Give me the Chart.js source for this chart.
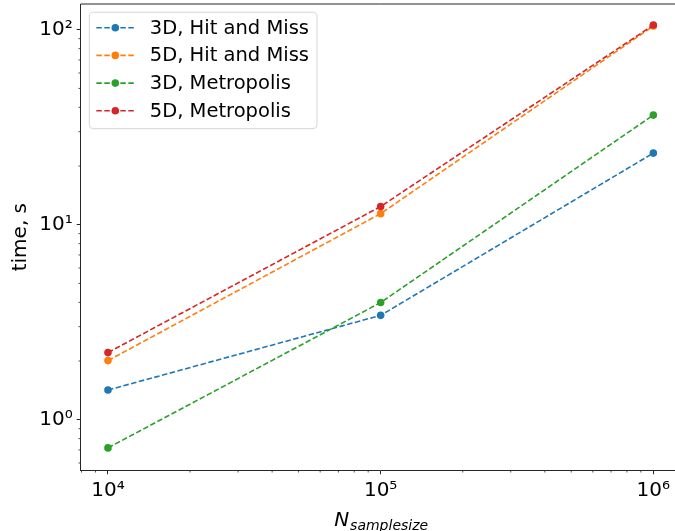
<!DOCTYPE html>
<html><head><meta charset="utf-8">
<script src="https://cdn.jsdelivr.net/npm/chart.js@4.4.0/dist/chart.umd.min.js"></script>
<style>
html,body{margin:0;padding:0;overflow:hidden;background:#fff;width:675px;height:531px}
#wrap{width:690px;height:531px;position:relative}
</style></head><body>
<div id="wrap"><canvas id="c" width="690" height="531"></canvas></div>
<script>
// ---- data ----
const sampleSizes = [1e4, 1e5, 1e6];
const hitMiss3D = [1.42, 3.43, 23.3];
const hitMiss5D = [2.01, 11.4, 104.5];
const metropolis3D = [0.717, 3.99, 36.5];
const metropolis5D = [2.21, 12.4, 105.7];
const seriesLabels = ['3D, Hit and Miss', '5D, Hit and Miss', '3D, Metropolis', '5D, Metropolis'];
const seriesValues = [hitMiss3D, hitMiss5D, metropolis3D, metropolis5D];
const seriesColors = ['#1f77b4', '#ff7f0e', '#2ca02c', '#d62728'];
const xTickValues = [1e4, 1e5, 1e6];
const xTickLabels = ['10⁴', '10⁵', '10⁶'];
const yTickValues = [1, 10, 100];
const yTickLabels = ['10⁰', '10¹', '10²'];
const yAxisTitle = 'time, s';
const xAxisTitleMain = 'N';
const xAxisTitleSub = 'samplesize';

Chart.defaults.font.family = '"DejaVu Sans", sans-serif';
const FONT = '"DejaVu Sans", sans-serif';
const AXIS_COLOR = '#262626';

const datasets = seriesValues.map((vals, i) => ({
  label: seriesLabels[i],
  data: sampleSizes.map((x, j) => ({x: x, y: vals[j]})),
  borderColor: seriesColors[i],
  backgroundColor: seriesColors[i],
  pointBackgroundColor: seriesColors[i],
  pointBorderWidth: 0,
  pointRadius: 3.8,
  borderWidth: 1.6,
  borderDash: [5.5, 2.5],
  tension: 0,
  fill: false,
  order: seriesValues.length - 1 - i
}));

function setTicks(values) {
  return function(scale) { scale.ticks = values.map(v => ({value: v})); };
}

const minorTicks = {
  id: 'minorTicks',
  afterDraw(chart) {
    const ctx = chart.ctx;
    const xs = chart.scales.x, ys = chart.scales.y;
    ctx.save();
    ctx.strokeStyle = AXIS_COLOR;
    ctx.lineWidth = 0.8;
    for (let k = -2; k <= 7; k++) {
      for (let m = 2; m <= 9; m++) {
        const v = m * Math.pow(10, k);
        if (v > xs.min && v < xs.max) {
          const px = xs.getPixelForValue(v);
          ctx.beginPath(); ctx.moveTo(px, xs.top); ctx.lineTo(px, xs.top + 2.2); ctx.stroke();
        }
        if (v > ys.min && v < ys.max) {
          const py = ys.getPixelForValue(v);
          ctx.beginPath(); ctx.moveTo(ys.right, py); ctx.lineTo(ys.right - 2.2, py); ctx.stroke();
        }
      }
    }
    // top spine
    const a = chart.chartArea;
    ctx.lineWidth = 1;
    ctx.beginPath();
    ctx.moveTo(a.left, a.top); ctx.lineTo(a.right, a.top);
    ctx.stroke();
    // x axis title with subscript
    const cx = (a.left + a.right) / 2;
    ctx.fillStyle = '#000';
    ctx.textBaseline = 'alphabetic';
    ctx.font = 'italic 20px ' + FONT;
    const wN = ctx.measureText(xAxisTitleMain).width;
    ctx.font = 'italic 14px ' + FONT;
    const wS = ctx.measureText(xAxisTitleSub).width;
    const x0 = cx - (wN + wS) / 2;
    ctx.font = 'italic 20px ' + FONT;
    ctx.textAlign = 'left';
    ctx.fillText(xAxisTitleMain, x0, 525.7);
    ctx.font = 'italic 14px ' + FONT;
    ctx.fillText(xAxisTitleSub, x0 + wN + 1, 529.5);
    ctx.restore();
  }
};

const boxLegend = {
  id: 'boxLegend',
  afterDatasetsDraw(chart) {
    const ctx = chart.ctx;
    const a = chart.chartArea;
    const fs = 19.5;
    ctx.save();
    ctx.font = fs + 'px ' + FONT;
    let maxW = 0;
    chart.data.datasets.forEach(d => { maxW = Math.max(maxW, ctx.measureText(d.label).width); });
    const bx = a.left + 8.6, by = a.top + 8.2;
    const lineX0 = bx + 7, lineX1 = lineX0 + 38;
    const textX = lineX1 + 15.5;
    const rowH = 27.7;
    const bw = textX + maxW + 8 - bx;
    const bh = 116.5;
    const r = 4;
    ctx.beginPath();
    ctx.moveTo(bx + r, by);
    ctx.lineTo(bx + bw - r, by); ctx.arcTo(bx + bw, by, bx + bw, by + r, r);
    ctx.lineTo(bx + bw, by + bh - r); ctx.arcTo(bx + bw, by + bh, bx + bw - r, by + bh, r);
    ctx.lineTo(bx + r, by + bh); ctx.arcTo(bx, by + bh, bx, by + bh - r, r);
    ctx.lineTo(bx, by + r); ctx.arcTo(bx, by, bx + r, by, r);
    ctx.closePath();
    ctx.fillStyle = 'rgba(255,255,255,0.8)';
    ctx.fill();
    ctx.strokeStyle = '#d6d6d6';
    ctx.lineWidth = 1;
    ctx.stroke();
    chart.data.datasets.forEach((d, i) => {
      const yc = by + 15.5 + i * rowH;
      ctx.strokeStyle = d.borderColor;
      ctx.lineWidth = d.borderWidth;
      ctx.setLineDash(d.borderDash);
      ctx.beginPath(); ctx.moveTo(lineX0, yc); ctx.lineTo(lineX1, yc); ctx.stroke();
      ctx.setLineDash([]);
      ctx.fillStyle = d.pointBackgroundColor;
      ctx.beginPath(); ctx.arc((lineX0 + lineX1) / 2, yc, d.pointRadius, 0, Math.PI * 2); ctx.fill();
      ctx.fillStyle = '#000';
      ctx.textAlign = 'left';
      ctx.textBaseline = 'middle';
      ctx.fillText(d.label, textX, yc + 1);
    });
    ctx.restore();
  }
};

new Chart(document.getElementById('c'), {
  type: 'line',
  data: {datasets: datasets},
  options: {
    responsive: false,
    animation: false,
    devicePixelRatio: 1,
    layout: {padding: {left: 0, top: 1.8, right: 9.4, bottom: 0}},
    plugins: {legend: {display: false}, tooltip: {enabled: false}},
    scales: {
      x: {
        type: 'logarithmic',
        min: Math.pow(10, 3.9),
        max: Math.pow(10, 6.1),
        afterBuildTicks: setTicks(xTickValues),
        afterFit(s) { s.height = 60.7; s.paddingLeft = 0; s.paddingRight = 0; },
        grid: {drawOnChartArea: false, drawTicks: true, tickLength: 4, tickColor: AXIS_COLOR, tickWidth: 1},
        border: {display: true, color: AXIS_COLOR, width: 1},
        ticks: {
          autoSkip: false, maxRotation: 0, padding: 4, color: '#000',
          font: {size: 20, family: FONT},
          callback(v) { const i = xTickValues.indexOf(v); return i >= 0 ? xTickLabels[i] : ''; }
        }
      },
      y: {
        type: 'logarithmic',
        min: Math.pow(10, -0.2593),
        max: Math.pow(10, 2.132),
        afterBuildTicks: setTicks(yTickValues),
        afterFit(s) { s.width = 80.7; s.paddingTop = 0; s.paddingBottom = 0; },
        grid: {drawOnChartArea: false, drawTicks: true, tickLength: 4, tickColor: AXIS_COLOR, tickWidth: 1},
        border: {display: true, color: AXIS_COLOR, width: 1},
        title: {display: true, text: yAxisTitle, color: '#000', font: {size: 20, family: FONT}, padding: {top: 9, bottom: 0}},
        ticks: {
          autoSkip: false, padding: 4, color: '#000',
          font: {size: 20, family: FONT},
          callback(v) { const i = yTickValues.indexOf(v); return i >= 0 ? yTickLabels[i] : ''; }
        }
      }
    }
  },
  plugins: [minorTicks, boxLegend]
});
</script>
</body></html>
